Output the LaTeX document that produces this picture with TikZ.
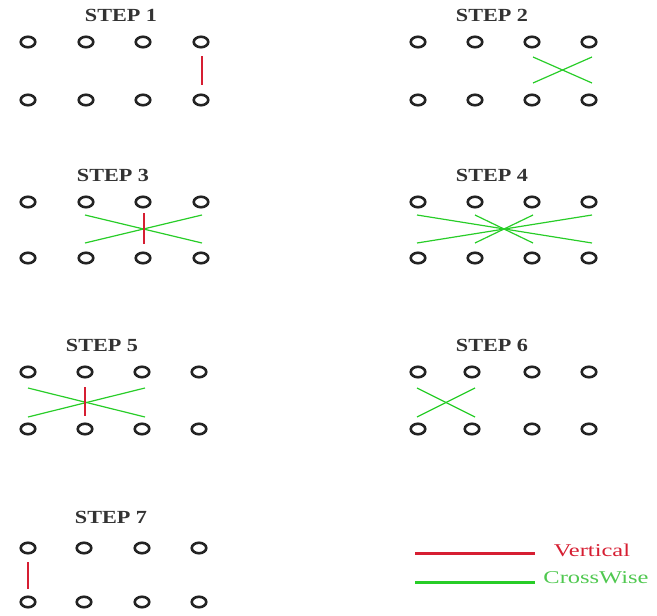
\documentclass[tikz,border=0pt]{standalone}
\usepackage{fontspec}
\setmainfont{Liberation Serif}
\usetikzlibrary{shapes.geometric}
\definecolor{vred}{RGB}{214,30,50}
\definecolor{cgreen}{RGB}{40,205,40}
\definecolor{lgreen}{RGB}{80,200,80}
\definecolor{dotc}{RGB}{35,35,35}
\tikzset{
  dot/.style={ellipse,draw=dotc,line width=2.6pt,minimum width=14.5pt,minimum height=10.5pt,inner sep=0pt},
  title/.style={font=\fontsize{18.5}{22}\selectfont\bfseries,text=black!80,inner sep=0pt},
  legtext/.style={font=\fontsize{18}{21}\selectfont,inner sep=0pt},
  vline/.style={draw=vred,line width=1.3pt},
  cline/.style={draw=cgreen,line width=1.2pt},
  legv/.style={draw=vred,line width=3pt},
  legc/.style={draw=cgreen,line width=3pt},
}
\newcommand{\stitle}[1]{\scalebox{1.2}[1]{#1}}
\newcommand{\ltext}[1]{\scalebox{1.36}[1]{#1}}
\begin{document}
\begin{tikzpicture}[x=1pt,y=-1pt]
\useasboundingbox (0,0) rectangle (657,616);
% Step 1
\node[title] (t1) at (121,15) {\stitle{STEP 1}};
\foreach \x [count=\i] in {28,86,143,201} {
  \node[dot] (s1t\i) at (\x,42) {};
  \node[dot] (s1b\i) at (\x,100) {};
}
\draw[vline] (202,56) -- (202,85);
% Step 2
\node[title] (t2) at (492,15) {\stitle{STEP 2}};
\foreach \x [count=\i] in {418,475,532,589} {
  \node[dot] (s2t\i) at (\x,42) {};
  \node[dot] (s2b\i) at (\x,100) {};
}
\draw[cline] (533,57) -- (592,83);
\draw[cline] (533,83) -- (592,57);
% Step 3
\node[title] (t3) at (113,175) {\stitle{STEP 3}};
\foreach \x [count=\i] in {28,86,143,201} {
  \node[dot] (s3t\i) at (\x,202) {};
  \node[dot] (s3b\i) at (\x,258) {};
}
\draw[cline] (85,215) -- (202,243);
\draw[cline] (85,243) -- (202,215);
\draw[vline] (144,213) -- (144,244);
% Step 4
\node[title] (t4) at (492,175) {\stitle{STEP 4}};
\foreach \x [count=\i] in {418,475,532,589} {
  \node[dot] (s4t\i) at (\x,202) {};
  \node[dot] (s4b\i) at (\x,258) {};
}
\draw[cline] (417,215) -- (592,243);
\draw[cline] (417,243) -- (592,215);
\draw[cline] (475,215) -- (533,243);
\draw[cline] (475,243) -- (533,215);
% Step 5
\node[title] (t5) at (102,345) {\stitle{STEP 5}};
\foreach \x [count=\i] in {28,85,142,199} {
  \node[dot] (s5t\i) at (\x,372) {};
  \node[dot] (s5b\i) at (\x,429) {};
}
\draw[cline] (28,388) -- (145,417);
\draw[cline] (28,417) -- (145,388);
\draw[vline] (85,387) -- (85,416);
% Step 6
\node[title] (t6) at (492,345) {\stitle{STEP 6}};
\foreach \x [count=\i] in {418,472,532,589} {
  \node[dot] (s6t\i) at (\x,372) {};
  \node[dot] (s6b\i) at (\x,429) {};
}
\draw[cline] (417,388) -- (475,417);
\draw[cline] (417,417) -- (475,388);
% Step 7
\node[title] (t7) at (111,517) {\stitle{STEP 7}};
\foreach \x [count=\i] in {28,84,142,199} {
  \node[dot] (s7t\i) at (\x,548) {};
  \node[dot] (s7b\i) at (\x,602) {};
}
\draw[vline] (28,562) -- (28,589);
% Legend
\coordinate (lv1) at (415,553);
\coordinate (lv2) at (535,553);
\coordinate (lc1) at (415,582);
\coordinate (lc2) at (535,582);
\draw[legv] (lv1) -- (lv2);
\draw[legc] (lc1) -- (lc2);
\node[legtext,text=vred] (lgv) at (592,550) {\ltext{Vertical}};
\node[legtext,text=lgreen] (lgc) at (596,578) {\ltext{CrossWise}};
\end{tikzpicture}
\end{document}
